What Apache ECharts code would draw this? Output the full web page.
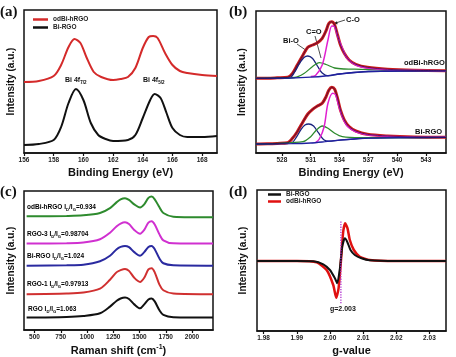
<!DOCTYPE html>
<html><head><meta charset="utf-8">
<script src="https://cdn.jsdelivr.net/npm/echarts@6/dist/echarts.min.js"></script>
<style>html,body{margin:0;padding:0;background:#fff}#c{width:456px;height:357px}</style>
</head><body><div id="c"></div><script>
// ---------- Panel (a): Bi 4f XPS ----------
const aTicks = [156,158,160,162,164,166,168];
const aOdBi = [[156,71],[157,72],[158,77],[158.5,88],[159,106],[159.4,114],[159.8,110],[160.2,96],[160.7,81],[161.2,76],[162,73],[162.5,74],[163,76],[163.5,85],[164,105],[164.4,116],[164.7,117],[165,115],[165.5,100],[166,88],[166.5,82],[167,80],[168,78],[169,77]];
const aBiRGO = [[156,8],[157,9],[158,13],[158.5,26],[159,50],[159.5,64],[160,53],[160.5,30],[161,18],[161.5,14],[162,12],[163,13],[163.5,18],[164,35],[164.5,53],[164.8,59],[165.2,55],[165.6,40],[166,25],[166.5,18],[167,16],[168,16],[169,17]];
// ---------- Panel (b): O 1s XPS ----------
const bTicks = [528,531,534,537,540,543];
const bUpperData = [[525.3,74.7],[526.5,74.8],[527.5,75.2],[528.6,75.7],[529.1,79.7],[529.6,88],[530.2,98],[530.7,105.7],[531.2,108],[531.7,110.3],[532.2,114.7],[532.6,122.3],[532.9,129.7],[533.2,131.3],[533.5,128],[533.8,118],[534.1,108],[534.5,99.7],[535.0,93],[535.7,88.7],[536.9,85.7],[539,83.7],[541.8,82.7],[545.1,82.3]];
const bUpperBg = [[525.3,74.7],[529,75],[531,75.8],[532.5,77],[534,79],[535.5,80.5],[537,81.5],[540,82],[545.1,82.2]];
const bUpperBiO = [[525.3,74.7],[528.8,75.2],[529.3,80.5],[529.8,89],[530.3,95.5],[530.7,97],[531.2,94.5],[531.7,87],[532.2,80],[532.8,77.2],[534,79],[537,81.5],[545.1,82.2]];
const bUpperCeqO = [[525.3,74.7],[529.3,75.5],[530.3,79.5],[531.2,86.5],[531.9,90.3],[532.6,88.5],[533.5,85],[534.5,84],[536.2,83.7],[539,83],[545.1,82.3]];
const bUpperCO = [[531.0,76.5],[531.5,77.5],[532.2,88],[532.8,113],[533.2,127],[533.5,126.3],[533.8,117],[534.3,104.7],[534.8,94.7],[535.7,88],[536.9,85],[539,83.3],[541.8,82.7],[545.1,82.3]];
const bLowerData = [[525.3,9],[526.5,9.2],[527.5,9.6],[528.6,10.3],[529.1,14.7],[529.6,21.3],[530.2,31.3],[530.7,39],[531.2,43.7],[531.7,47],[532.2,49.7],[532.6,56.3],[532.9,63],[533.2,65.7],[533.5,63.7],[533.8,54.7],[534.1,43],[534.5,33],[535.0,26.3],[535.7,22],[536.9,18.7],[539,17],[541.8,16],[545.1,15.7]];
const bLowerBg = [[525.3,9],[529,9.3],[531,10],[532.5,11.3],[534,12.8],[535.5,14],[537,14.8],[540,15.3],[545.1,15.7]];
const bLowerBiO = [[525.3,9],[529,10.3],[529.5,15.7],[530,23.7],[530.4,28],[530.8,29],[531.3,27],[531.8,20.3],[532.4,13],[532.9,11.8],[534,12.8],[537,14.8],[545.1,15.7]];
const bLowerCeqO = [[525.3,9],[530.2,11.3],[531,16.3],[531.6,23],[532.2,27],[532.8,24.7],[533.5,19.7],[534.3,16.3],[536.2,15.3],[545.1,15.7]];
const bLowerCO = [[531.5,10.5],[531.9,14],[532.4,26.3],[532.8,49.7],[533.3,59.7],[533.6,58],[533.9,48],[534.3,36.3],[534.8,27],[535.7,21.3],[536.9,18.3],[539,16.7],[541.8,16],[545.1,15.7]];
// ---------- Panel (c): Raman ----------
const cTicks = [500,750,1000,1250,1500,1750,2000];
const cOdBi = [[425,115.3],[806,115.7],[965,116.3],[1124,118.7],[1219,123.7],[1283,129.7],[1320,132.6],[1362,133.7],[1400,132],[1450,127.5],[1505,124.3],[1545,127.5],[1585,134],[1616,135.3],[1645,132.5],[1690,124.5],[1727,118.7],[1822,115],[2200,114.3]];
const cRGO3 = [[425,87.7],[806,88],[965,88.7],[1124,92],[1219,98.7],[1283,105.3],[1320,108],[1362,109.3],[1400,107.5],[1450,101.5],[1505,97.7],[1545,101.5],[1585,109],[1616,110.3],[1645,107],[1690,97],[1727,91],[1822,88],[2200,87.7]];
const cBiRGO = [[425,65.3],[806,65.7],[965,66.3],[1124,69.7],[1219,75.3],[1283,82],[1320,84.3],[1362,85.3],[1400,84],[1450,79],[1505,75.3],[1545,79],[1585,84.3],[1616,85.3],[1645,82],[1690,72.5],[1727,67.7],[1822,65.7],[2200,65.3]];
const cRGO1 = [[425,36.3],[806,37],[965,38],[1124,42],[1219,51],[1283,58.7],[1320,60.8],[1362,62],[1400,60],[1450,53],[1505,48.7],[1545,53],[1585,61.5],[1616,62.7],[1645,58.5],[1690,46],[1727,40.3],[1822,37],[2200,36.3]];
const cRGO = [[425,12.7],[806,13.3],[965,14.3],[1124,17],[1219,23.7],[1283,29.7],[1320,32],[1362,33],[1400,31.5],[1450,26],[1505,22],[1545,26],[1585,31],[1616,32],[1645,29],[1690,20],[1727,15.3],[1822,13],[2200,12.7]];
const cLabels = [
  {name:'odBi-hRGO', ratio:'0.934', color:'#2e8b2e'},
  {name:'RGO-3', ratio:'0.98704', color:'#d030d0'},
  {name:'Bi-RGO', ratio:'1.024', color:'#2a2aa0'},
  {name:'RGO-1', ratio:'0.97913', color:'#d03030'},
  {name:'RGO', ratio:'1.063', color:'#111111'}
];
// ---------- Panel (d): EPR ----------
const dTicks = [1.98,1.99,2.00,2.01,2.02,2.03];
const dBiRGO = [[1.978,70],[1.99,70],[1.995,69.7],[1.998,66.7],[2.000,61],[2.0015,52.7],[2.0022,47.7],[2.0030,62.7],[2.0037,84.3],[2.0045,92.7],[2.0052,89.3],[2.0062,81],[2.0075,76],[2.0095,72.7],[2.012,70.7],[2.02,70],[2.035,70]];
const dOdBi = [[1.978,70],[1.99,70],[1.996,68.7],[1.999,61],[2.001,46],[2.0019,33.3],[2.0026,42.7],[2.0033,69.3],[2.0040,99.3],[2.0046,107.7],[2.0053,102.7],[2.0060,91],[2.0072,81],[2.0090,74.3],[2.012,71],[2.02,70],[2.035,70]];
const dGLine = [[2.0033,27.7],[2.0033,111]];

const FONT = 'Liberation Sans, Arial, sans-serif';
const grids = [
  {left:24, top:10, width:193, height:143},
  {left:256, top:11, width:190, height:142},
  {left:24, top:191, width:189, height:141},
  {left:257, top:190, width:189, height:141}
].map(g => Object.assign({show:true, borderColor:'#111', borderWidth:1.5, backgroundColor:'transparent'}, g));

function xa(i, min, max, ticks, name, fmt, nameRich) {
  return {
    type:'value', gridIndex:i, min, max,
    axisLine:{show:true, onZero:false, lineStyle:{color:'#111', width:1.5}},
    axisTick:{show:true, customValues:ticks, length:3, lineStyle:{color:'#111', width:1.2}},
    axisLabel:{show:true, customValues:ticks, fontSize:6.5, fontWeight:'bold', color:'#222', margin:4, fontFamily:FONT, formatter: fmt || (v => String(v))},
    splitLine:{show:false},
    name, nameLocation:'middle', nameGap:14,
    nameTextStyle:{fontSize:11, fontWeight:'bold', color:'#111', fontFamily:FONT, rich: nameRich}
  };
}
function ya(i, max, gap) {
  return {
    type:'value', gridIndex:i, min:0, max,
    axisLine:{show:false}, axisTick:{show:false}, axisLabel:{show:false}, splitLine:{show:false},
    name:'Intensity (a.u.)', nameLocation:'middle', nameRotate:90, nameGap:gap,
    nameTextStyle:{fontSize:10, fontWeight:'bold', color:'#111', fontFamily:FONT}
  };
}
function ln(name, data, i, color, w, z, smooth, type) {
  return {type:'line', name, data, xAxisIndex:i, yAxisIndex:i, showSymbol:false, symbol:'none',
    smooth: smooth === undefined ? 0.3 : smooth, animation:false, z: z || 2,
    lineStyle:{color, width:w, type: type || 'solid'}, itemStyle:{color}};
}

const rich = {n:{fontSize:7, fontWeight:'bold', fontFamily:FONT, fill:'#111', color:'#111'}, s:{fontSize:4.5, fontWeight:'bold', fontFamily:FONT, color:'#111', verticalAlign:'bottom', padding:[5,0,0,0]}};
const graphic = [];
function txt(x, y, t, size, color, font, extra) {
  graphic.push({type:'text', left:x, top:y, style:Object.assign({text:t, fontSize:size, fontWeight:'bold', fill:color || '#111', fontFamily:font || FONT}, extra || {})});
}
function seg(x1, y1, x2, y2, color) {
  graphic.push({type:'line', shape:{x1, y1, x2, y2}, style:{stroke:color || '#222', lineWidth:0.8}});
}
const SERIF = 'Liberation Serif, Times New Roman, serif';
txt(0, 5, '(a)', 15, '#111', SERIF);
txt(229, 5, '(b)', 15, '#111', SERIF);
txt(0, 185, '(c)', 15, '#111', SERIF);
txt(229, 185, '(d)', 15, '#111', SERIF);
// (a) peak annotations
graphic.push({type:'text', left:65, top:77, style:{text:'{n|Bi 4f}{s|7/2}', rich}});
graphic.push({type:'text', left:143, top:77, style:{text:'{n|Bi 4f}{s|5/2}', rich}});
// (b) annotations
txt(283, 37, 'Bi-O', 7.5);
txt(306, 28, 'C=O', 7.5);
txt(346, 16, 'C-O', 7.5);
txt(404, 59, 'odBi-hRGO', 7.5);
txt(415, 128, 'Bi-RGO', 7.5);
seg(297, 44, 307, 51);
seg(315, 36, 321, 58);
seg(345, 20, 334, 23.5);
graphic.push({type:'polygon', shape:{points:[[333,24],[337,21.2],[337.6,24.2]]}, style:{fill:'#222'}});
// (c) ratio labels
const cLabelY = [204, 231, 253, 281, 306];
cLabels.forEach((l, k) => {
  const r = {n:{fontSize:6.5, fontWeight:'bold', fontFamily:FONT, color:l.color}, s:{fontSize:4.2, fontWeight:'bold', fontFamily:FONT, color:l.color, padding:[4,0,0,0]}};
  graphic.push({type:'text', left: k === 4 ? 28 : 27, top:cLabelY[k], style:{text:'{n|' + l.name + ' I}{s|D}{n|/I}{s|G}{n|=' + l.ratio + '}', rich:r}});
});
// (d) g label
txt(330, 306, 'g=2.003', 7);

const option = {
  animation:false,
  grid: grids,
  xAxis: [
    xa(0, 156, 169, aTicks, 'Binding Energy (eV)'),
    xa(1, 525.3, 545.1, bTicks, 'Binding Energy (eV)'),
    xa(2, 400, 2200, cTicks, '{t|Raman shift (cm}{u|-1}{t|)}', null, {t:{fontSize:11, fontWeight:'bold', fontFamily:FONT, color:'#111'}, u:{fontSize:7, fontWeight:'bold', fontFamily:FONT, color:'#111', padding:[0,0,6,0]}}),
    xa(3, 1.978, 2.035, dTicks, 'g-value', v => v.toFixed(2))
  ],
  yAxis: [ya(0, 143, 8), ya(1, 142, 9), ya(2, 141, 8), ya(3, 141, 9)],
  legend: [
    {left:33, top:16, orient:'vertical', itemWidth:15, itemHeight:2.5, itemGap:1, icon:'rect', padding:0,
     textStyle:{fontSize:6.5, fontWeight:'bold', fontFamily:FONT, color:'#222'},
     data:[{name:'odBi-hRGO', itemStyle:{color:'#d42a2a'}}, {name:'Bi-RGO', itemStyle:{color:'#111'}}]},
    {left:268, top:191, orient:'vertical', itemWidth:13, itemHeight:2.5, itemGap:0, icon:'rect', padding:0,
     textStyle:{fontSize:6.5, fontWeight:'bold', fontFamily:FONT, color:'#222'},
     data:[{name:'Bi-RGO', itemStyle:{color:'#111'}}, {name:'odBi-hRGO', itemStyle:{color:'#e01010'}}]}
  ],
  graphic,
  series: [
    ln('odBi-hRGO', aOdBi, 0, '#d42a2a', 2),
    ln('Bi-RGO', aBiRGO, 0, '#111', 2),
    // (b)
    ln('upper data', bUpperData, 1, '#cc1a1a', 3, 2),
    ln('upper Bi-O', bUpperBiO, 1, '#1a237e', 1.3, 3),
    ln('upper C=O', bUpperCeqO, 1, '#2e8b2e', 1.3, 3),
    ln('upper C-O', bUpperCO, 1, '#e020d0', 1.5, 3),
    ln('upper bg', bUpperBg, 1, '#2020a0', 1.3, 4),
    ln('upper fit', bUpperData, 1, '#2a0a40', 0.7, 5),
    ln('lower data', bLowerData, 1, '#cc1a1a', 3, 2),
    ln('lower Bi-O', bLowerBiO, 1, '#1a237e', 1.3, 3),
    ln('lower C=O', bLowerCeqO, 1, '#2e8b2e', 1.3, 3),
    ln('lower C-O', bLowerCO, 1, '#e020d0', 1.5, 3),
    ln('lower bg', bLowerBg, 1, '#2020a0', 1.3, 4),
    ln('lower fit', bLowerData, 1, '#2a0a40', 0.7, 5),
    // (c)
    ln('c odBi', cOdBi, 2, '#2e8b2e', 2),
    ln('c RGO3', cRGO3, 2, '#d030d0', 2),
    ln('c BiRGO', cBiRGO, 2, '#2a2aa0', 2),
    ln('c RGO1', cRGO1, 2, '#d03030', 2),
    ln('c RGO', cRGO, 2, '#111', 2),
    // (d)
    ln('odBi-hRGO', dOdBi, 3, '#e01010', 2.5, 2, 0.2),
    ln('Bi-RGO', dBiRGO, 3, '#111', 2, 3, 0.2),
    ln('g line', dGLine, 3, '#b030d0', 1.3, 4, false, 'dotted')
  ]
};
const chart = echarts.init(document.getElementById('c'), null, {renderer:'canvas'});
chart.setOption(option);
</script></body></html>
